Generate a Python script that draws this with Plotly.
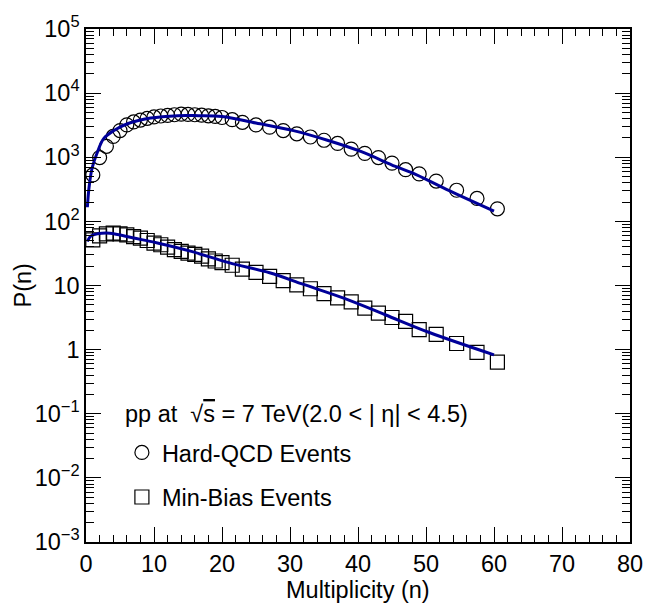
import plotly.graph_objects as go

# ---- data ----
n_bins = [1, 2, 3, 4, 5, 6, 7, 8, 9, 10, 11, 12, 13, 14, 15, 16, 17, 18, 19, 20,
          21.5, 23, 25, 27, 29, 31, 33, 35, 37, 39, 41, 43, 45, 47, 49,
          51.5, 54.5, 57.5, 60.5]

hard_qcd = [530, 990, 1480, 2110, 2610, 3200, 3550, 3800, 4050, 4250, 4400, 4500,
            4600, 4700, 4650, 4600, 4530, 4430, 4330, 4170,
            3850, 3510, 3190, 2940, 2610, 2320, 2070, 1840, 1640, 1340, 1150, 990,
            810, 640, 550, 425, 306, 228, 157]

min_bias = [51.6, 59.4, 63.7, 65.5, 64, 61.5, 58, 54.7, 50.3, 45.8, 43.2, 39.8,
            36.3, 34, 32, 30.5, 28.7, 26.1, 24.1, 22.7,
            20.7, 18, 16, 13.9, 11.9, 10.2, 8.9, 7.47, 6.4, 5.56, 4.45, 3.7,
            3.17, 2.75, 2.05, 1.73, 1.245, 0.906, 0.64]

# fit curves
hard_fit_n = [0.2, 0.45, 0.9, 1.7, 2.6, 4.1, 6, 9.5, 13.5, 16.5, 20, 25, 30.5,
              35.5, 40.5, 45.5, 48, 53, 60]
hard_fit_p = [166, 340, 680, 1220, 1950, 2610, 3300, 4080, 4450, 4450, 4330, 3420,
              2600, 1840, 1220, 720, 570, 316, 145]

mb_fit_n = [0.2, 0.7, 1.7, 3.5, 7, 10.5, 15.5, 21, 27, 32, 38, 44, 50.5, 60]
mb_fit_p = [48.6, 59, 64, 65.5, 55, 46, 34, 22.7, 15.8, 10.4, 6.3, 3.5, 1.85, 0.83]

y_tickvals = [1e-3, 1e-2, 1e-1, 1, 10, 1e2, 1e3, 1e4, 1e5]
y_ticktext = ["10<sup>\u22123</sup>", "10<sup>\u22122</sup>", "10<sup>\u22121</sup>",
              "1", "10", "10<sup>2</sup>", "10<sup>3</sup>", "10<sup>4</sup>",
              "10<sup>5</sup>"]

header = ("pp at  \u221a<span style='text-decoration:overline'>s</span> = 7 TeV(2.0 &lt; | \u03b7| &lt; 4.5)")

FONT = "Liberation Sans"
FS = 23.5
FIT_COLOR = "#000099"

y_minor = [k * 10 ** e for e in range(-3, 5) for k in range(2, 10)]

fig = go.Figure()

fig.add_trace(go.Scatter(
    x=n_bins, y=hard_qcd, mode="markers", name="Hard-QCD Events",
    marker=dict(symbol="circle-open", size=14, color="black", line=dict(width=1.2)),
    legendgroup="a"))
fig.add_trace(go.Scatter(
    x=n_bins, y=min_bias, mode="markers", name="Min-Bias Events",
    marker=dict(symbol="square-open", size=14, color="black", line=dict(width=1.2)),
    legendgroup="b"))
fig.add_trace(go.Scatter(
    x=hard_fit_n, y=hard_fit_p, mode="lines", line=dict(color=FIT_COLOR, width=3, shape="spline"),
    showlegend=False))
fig.add_trace(go.Scatter(
    x=mb_fit_n, y=mb_fit_p, mode="lines", line=dict(color=FIT_COLOR, width=3, shape="spline"),
    showlegend=False))

axis_common = dict(showline=True, linecolor="black", linewidth=1.5, mirror="allticks",
                   ticks="inside", tickcolor="black", tickwidth=1, showgrid=False,
                   zeroline=False, tickfont=dict(family=FONT, size=FS, color="black"))

fig.update_xaxes(range=[0, 80], dtick=10, tick0=0, ticklen=15,
                 minor=dict(dtick=2, ticks="inside", ticklen=7, tickcolor="black", tickwidth=1),
                 **axis_common)
fig.update_yaxes(type="log", range=[-3, 5], tickvals=y_tickvals, ticktext=y_ticktext, ticklen=15,
                 minor=dict(tickvals=y_minor, ticks="inside", ticklen=8, tickcolor="black", tickwidth=1),
                 **axis_common)

fig.update_layout(
    width=660, height=609,
    margin=dict(l=86, r=30, t=18, b=67),
    paper_bgcolor="white", plot_bgcolor="white",
    font=dict(family=FONT, size=FS, color="black"),
    legend=dict(x=0.066, y=0.217, xanchor="left", yanchor="top",
                bgcolor="rgba(0,0,0,0)", tracegroupgap=11,
                font=dict(family=FONT, size=FS)),
    annotations=[
        dict(text=header, xref="paper", yref="paper", x=0.068, y=0.25,
             xanchor="left", yanchor="middle", showarrow=False,
             font=dict(family=FONT, size=FS)),
        dict(text="Multiplicity (n)", xref="paper", yref="paper", x=0.5, y=0,
             yshift=-48, xanchor="center", yanchor="middle", showarrow=False,
             font=dict(family=FONT, size=FS)),
        dict(text="P(n)", xref="paper", yref="paper", x=0, y=0.5, xshift=-64,
             xanchor="center", yanchor="middle", textangle=-90, showarrow=False,
             font=dict(family=FONT, size=FS)),
    ],
)

fig.write_html("out.html")
